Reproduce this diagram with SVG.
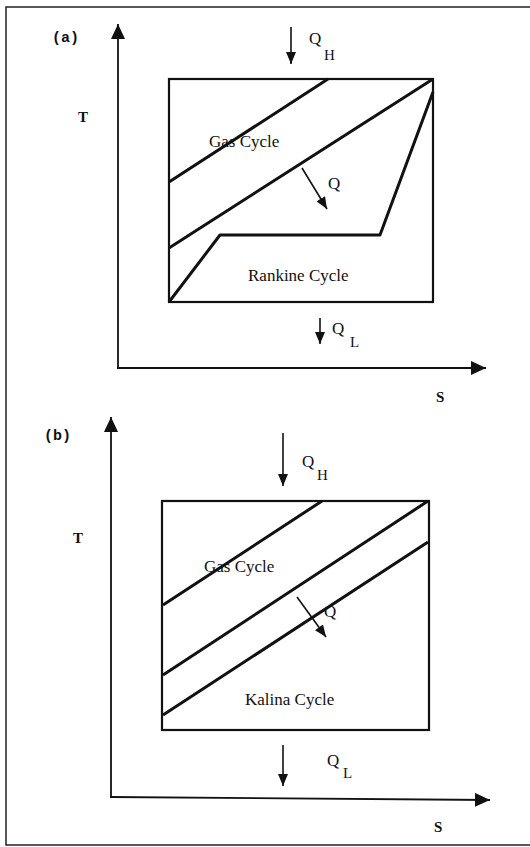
<svg xmlns="http://www.w3.org/2000/svg" width="530" height="847" viewBox="0 0 530 847">
  <style>
    .frame{fill:none;stroke:#222;stroke-width:1.5}
    .axis{fill:none;stroke:#111;stroke-width:1.8}
    .box{fill:none;stroke:#111;stroke-width:2.2}
    .cyc{fill:none;stroke:#111;stroke-width:3;stroke-linejoin:round}
    .arr{fill:none;stroke:#111;stroke-width:1.6}
    .lbl{font-family:"Liberation Serif","Times New Roman",serif;font-size:17px;fill:#111}
    .ax{font-family:"Liberation Serif","Times New Roman",serif;font-size:15px;fill:#111;font-weight:bold}
    .q{font-family:"Liberation Serif","Times New Roman",serif;font-size:17px;fill:#111}
    .sub{font-family:"Liberation Serif","Times New Roman",serif;font-size:15px;fill:#111}
    .tag{font-family:"Liberation Mono","Courier New",monospace;font-size:15px;font-weight:bold;fill:#111}
  </style>
  <defs>
    <marker id="big" markerUnits="userSpaceOnUse" markerWidth="16" markerHeight="14" refX="15" refY="7" orient="auto">
      <path d="M0,0 L15,7 L0,14 Z" fill="#111"/>
    </marker>
    <marker id="small" markerUnits="userSpaceOnUse" markerWidth="13" markerHeight="10" refX="12" refY="5" orient="auto">
      <path d="M0,0 L12,5 L0,10 Z" fill="#111"/>
    </marker>
  </defs>

  <rect class="frame" x="6" y="7" width="530" height="838"/>

  <g id="panel-a">
    <text class="tag" x="52" y="42">(a)</text>
    <text class="ax" x="78" y="122">T</text>
    <text class="ax" x="436" y="402">S</text>
    <g id="a-connectors">
      <line class="axis" x1="118" y1="369" x2="118" y2="24" marker-end="url(#big)"/>
      <line class="axis" x1="117" y1="368" x2="486" y2="368" marker-end="url(#big)"/>
      <line class="arr" x1="291" y1="27" x2="291" y2="64" marker-end="url(#small)"/>
      <line class="arr" x1="320" y1="318" x2="320" y2="344" marker-end="url(#small)"/>
      <line class="arr" x1="302" y1="168" x2="327" y2="209" marker-end="url(#small)"/>
    </g>
    <g id="a-box">
      <rect class="box" x="169" y="79" width="264" height="223"/>
      <polyline class="cyc" points="169,182 328,79"/>
      <polyline class="cyc" points="169,248 433,79"/>
      <polyline class="cyc" points="169,302 220,235 380,235 433,92"/>
    </g>
    <text class="lbl" x="209" y="147">Gas Cycle</text>
    <text class="lbl" x="248" y="281">Rankine Cycle</text>
    <text class="q" x="328" y="189">Q</text>
    <g id="a-qh"><text class="q" x="309" y="44">Q</text><text class="sub" x="324" y="60">H</text></g>
    <g id="a-ql"><text class="q" x="332" y="334">Q</text><text class="sub" x="350" y="347">L</text></g>
  </g>

  <g id="panel-b">
    <text class="tag" x="44" y="440">(b)</text>
    <text class="ax" x="73" y="543">T</text>
    <text class="ax" x="434" y="832">S</text>
    <g id="b-connectors">
      <line class="axis" x1="111" y1="798" x2="111" y2="417" marker-end="url(#big)"/>
      <line class="axis" x1="110" y1="797" x2="490" y2="800" marker-end="url(#big)"/>
      <line class="arr" x1="283" y1="433" x2="283" y2="486" marker-end="url(#small)"/>
      <line class="arr" x1="283" y1="745" x2="283" y2="786" marker-end="url(#small)"/>
      <line class="arr" x1="297" y1="597" x2="326" y2="637" marker-end="url(#small)"/>
    </g>
    <g id="b-box">
      <rect class="box" x="162" y="501" width="267" height="229"/>
      <polyline class="cyc" points="163,605 322,501"/>
      <polyline class="cyc" points="163,675 428,501"/>
      <polyline class="cyc" points="163,715 428,542"/>
    </g>
    <text class="lbl" x="204" y="572">Gas Cycle</text>
    <text class="lbl" x="245" y="705">Kalina Cycle</text>
    <text class="q" x="324" y="617">Q</text>
    <g id="b-qh"><text class="q" x="302" y="467">Q</text><text class="sub" x="317" y="480">H</text></g>
    <g id="b-ql"><text class="q" x="327" y="766">Q</text><text class="sub" x="343" y="778">L</text></g>
  </g>
</svg>
